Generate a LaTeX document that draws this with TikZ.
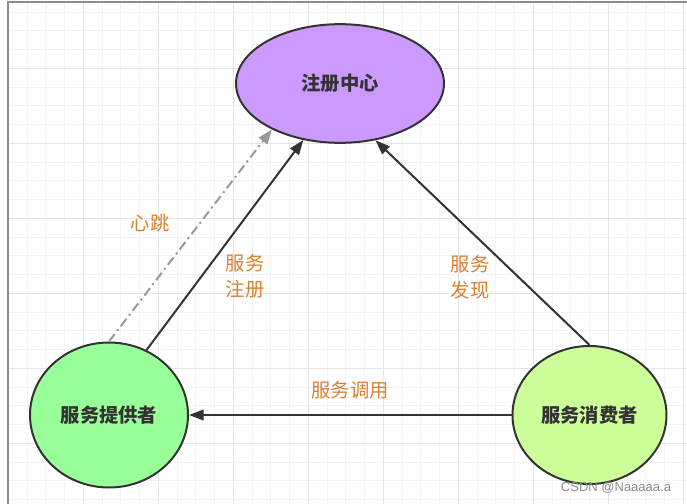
\documentclass[tikz,border=0pt]{standalone}
\usepackage{fontspec}
\setsansfont{Liberation Sans}
\newfontfamily\cjk{Noto Sans CJK SC}
\usetikzlibrary{shapes.geometric,arrows.meta}

\definecolor{regfill}{RGB}{204,153,255}
\definecolor{provfill}{RGB}{153,255,153}
\definecolor{consfill}{RGB}{204,255,153}
\definecolor{edgegray}{RGB}{51,51,51}
\definecolor{beatgray}{RGB}{153,153,153}
\definecolor{tagorange}{RGB}{217,128,50}
\definecolor{gridminor}{RGB}{243,243,243}
\definecolor{gridmajor}{RGB}{229,229,229}
\definecolor{framegray}{RGB}{140,140,140}

\tikzset{
  party/.style={ellipse, draw=edgegray, line width=1.5pt, inner sep=0pt,
    text=edgegray, font=\cjk\bfseries\fontsize{14.5pt}{16pt}\selectfont},
  flow/.style={draw=edgegray, line width=1.5pt, -{Triangle[length=11pt,width=8pt]}},
  beat/.style={draw=beatgray, line width=1.5pt, dash pattern=on 7pt off 3pt on 1.5pt off 3pt,
    -{Triangle[length=11pt,width=8pt]}},
  tag/.style={text=tagorange, align=center, font=\cjk\fontsize{14.5pt}{19.5pt}\selectfont},
}

\begin{document}
\begin{tikzpicture}[x=0.75pt, y=-0.75pt]
  \useasboundingbox (0,0) rectangle (687,504);
  % background grid
  \foreach \k in {1,...,36}
    \draw[gridminor, line width=0.75pt] ({8.3+18.75*\k},2) -- ({8.3+18.75*\k},504);
  \foreach \k in {1,...,27}
    \draw[gridminor, line width=0.75pt] (8,{-6.7+18.75*\k}) -- (687,{-6.7+18.75*\k});
  \foreach \k in {4,8,...,36}
    \draw[gridmajor, line width=0.75pt] ({8.3+18.75*\k},2) -- ({8.3+18.75*\k},504);
  \foreach \k in {4,8,...,24}
    \draw[gridmajor, line width=0.75pt] (8,{-6.7+18.75*\k}) -- (687,{-6.7+18.75*\k});
  \draw[framegray, line width=1.5pt] (8,504) -- (8,2) -- (687,2);

  % the three parties
  \node[party, fill=regfill, minimum width=156pt, minimum height=89pt] (reg) at (340,83.5) {注册中心};
  \node[party, fill=provfill, minimum width=118.5pt, minimum height=108.75pt] (prov) at (109,415) {服务提供者};
  \node[party, fill=consfill, minimum width=115.5pt, minimum height=103.5pt] (cons) at (589.5,415) {服务消费者};

  % connectors
  \draw[beat] (prov.north) -- (reg.214);
  \draw[flow] (prov.60) -- (reg.237);
  \draw[flow] (cons.north) -- (reg.302);
  \draw[flow] (cons.west) -- (prov.east);

  % labels
  \node[tag] (beatlbl) at (150,223) {心跳};
  \node[tag] (reglbl) at (245,276) {服务\\注册};
  \node[tag] (findlbl) at (470,277) {服务\\发现};
  \node[tag] (calllbl) at (350,390) {服务调用};
  \node[text=black!45, font=\sffamily\fontsize{9.75pt}{10pt}\selectfont] (mark) at (616,488) {CSDN @Naaaaa.a};
\end{tikzpicture}
\end{document}
